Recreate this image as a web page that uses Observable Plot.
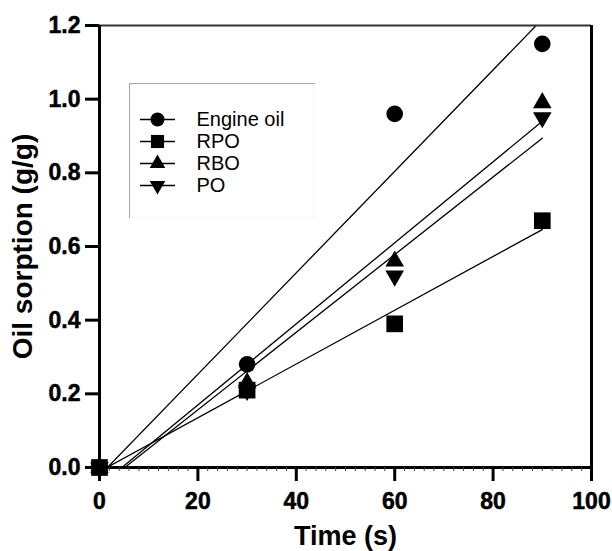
<!DOCTYPE html>
<html>
<head>
<meta charset="utf-8">
<script src="https://cdn.jsdelivr.net/npm/d3@7"></script>
<script src="https://cdn.jsdelivr.net/npm/@observablehq/plot@0.6"></script>
<style>
  html, body { margin: 0; padding: 0; background: #fff; }
  #wrap { position: relative; width: 612px; height: 551px; overflow: hidden; }
  #legend { position: absolute; left: 129px; top: 83px; }
</style>
</head>
<body>
<div id="wrap"><div id="chart"></div><div id="legend"></div></div>
<script>
// ---- data ----
const time = [0, 30, 60, 90];
const series = ["Engine oil", "RPO", "RBO", "PO"];
const engineOil = [0, 0.28, 0.96, 1.15];
const rpo = [0, 0.21, 0.39, 0.67];
const rbo = [0, 0.23, 0.56, 0.99];
const po = [0, 0.21, 0.52, 0.95];
const xTicks = [0, 20, 40, 60, 80, 100];
const xMinorTicks = d3.range(0, 101, 2);
const yTicks = [0, 0.2, 0.4, 0.6, 0.8, 1.0, 1.2];
const xLabel = "Time (s)";
const yLabel = "Oil sorption (g/g)";

const values = { "Engine oil": engineOil, "RPO": rpo, "RBO": rbo, "PO": po };
const data = series.flatMap(s => time.map((t, i) => ({ series: s, time: t, value: values[s][i] })));

// marker styles per series
const markerStyle = {
  "Engine oil": { symbol: "circle", r: 8.3, rotate: 0, lr: 7 },
  "RPO": { symbol: "square", r: 9.4, rotate: 0, lr: 7.4 },
  "RBO": { symbol: "triangle", r: 6.9, rotate: 0, lr: 5.8 },
  "PO": { symbol: "triangle", r: 6.9, rotate: 180, lr: 5.8 }
};

const font = "Liberation Sans, Arial, Helvetica, sans-serif";
const blank = () => "";

const chart = Plot.plot({
  width: 612,
  height: 551,
  marginLeft: 99,
  marginRight: 21,
  marginTop: 25,
  marginBottom: 84,
  style: { fontFamily: font, background: "#fff", color: "#000", overflow: "visible" },
  x: { domain: [0, 100] },
  y: { domain: [0, 1.2] },
  marks: [
    // regression lines
    Plot.linearRegressionY(data, { x: "time", y: "value", z: "series", stroke: "#000", strokeWidth: 1.3, ci: 0, clip: true }),
    // frame: top thin, right thick
    Plot.ruleY([1.2], { stroke: "#333", strokeWidth: 2 }),
    Plot.ruleX([100], { stroke: "#000", strokeWidth: 3 }),
    // axis lines
    Plot.ruleX([0], { stroke: "#000", strokeWidth: 3 }),
    Plot.ruleY([0], { stroke: "#000", strokeWidth: 3 }),
    // minor x ticks
    Plot.axisX({ ticks: xMinorTicks, tickSize: 4, strokeWidth: 1, stroke: "#444", tickFormat: blank, label: null }),
    // major ticks (labels drawn below as text marks)
    Plot.axisX({ ticks: xTicks, tickSize: 14, strokeWidth: 3, tickFormat: blank, label: null }),
    Plot.axisY({ ticks: yTicks, tickSize: 14, strokeWidth: 3, tickFormat: blank, label: null }),
    // tick labels
    Plot.text(xTicks, { x: d => d, text: d => String(d), frameAnchor: "bottom", textAnchor: "middle",
      lineAnchor: "middle", dy: 34, fontSize: 23, fontWeight: "bold", fill: "#000", stroke: "#000", strokeWidth: 0.5 }),
    Plot.text(yTicks, { y: d => d, text: d => d3.format(".1f")(d), frameAnchor: "left", textAnchor: "end",
      lineAnchor: "middle", dx: -19, fontSize: 23, fontWeight: "bold", fill: "#000", stroke: "#000", strokeWidth: 0.5 }),
    // axis titles
    Plot.text([xLabel], { text: d => d, frameAnchor: "bottom", textAnchor: "middle", lineAnchor: "middle",
      dy: 69, fontSize: 27, fontWeight: "bold", fill: "#000" }),
    Plot.text([yLabel], { text: d => d, frameAnchor: "left", textAnchor: "middle", lineAnchor: "middle",
      dx: -76, rotate: -90, fontSize: 28, fontWeight: "bold", fill: "#000" }),
    // data markers
    ...series.map(s => Plot.dot(data.filter(d => d.series === s), {
      x: "time", y: "value", symbol: () => markerStyle[s].symbol, r: markerStyle[s].r,
      rotate: markerStyle[s].rotate, fill: "#000", stroke: "none"
    }))
  ]
});
document.getElementById("chart").appendChild(chart);

// legend (a small Plot of its own)
const legend = Plot.plot({
  width: 186,
  height: 135,
  margin: 0,
  style: { fontFamily: font, background: "#fff", color: "#000" },
  x: { domain: [0, 186], range: [0, 186], axis: null },
  y: { type: "point", domain: series, range: [25, 113], axis: null },
  marks: [
    Plot.frame({ stroke: "#aaa", strokeWidth: 1.2 }),
    Plot.ruleY(series, { y: d => d, x1: 11, x2: 46, stroke: "#000", strokeWidth: 1.5 }),
    ...series.map(s => Plot.dot([s], { x: 28, y: d => d, symbol: () => markerStyle[s].symbol,
      r: markerStyle[s].lr, rotate: markerStyle[s].rotate, fill: "#000", stroke: "none" })),
    Plot.text(series, { x: 67, y: d => d, text: d => d, textAnchor: "start", fontSize: 20, fill: "#000" })
  ]
});
document.getElementById("legend").appendChild(legend);
</script>
</body>
</html>
